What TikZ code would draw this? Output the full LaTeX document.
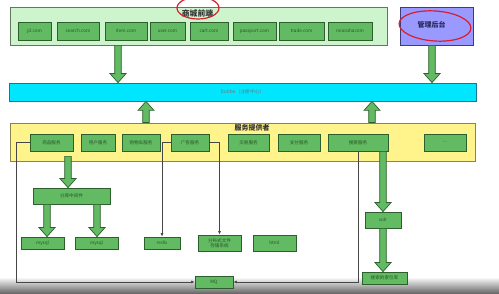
\documentclass[tikz,border=0pt]{standalone}
\usepackage{fontspec}
\setmainfont{Noto Sans CJK SC}
\usetikzlibrary{calc,arrows.meta}
\definecolor{boxfill}{RGB}{98,186,98}
\definecolor{boxline}{RGB}{45,95,45}
\definecolor{boxtext}{RGB}{40,85,40}
\definecolor{fefill}{RGB}{206,244,206}
\definecolor{feline}{RGB}{95,120,95}
\definecolor{yfill}{RGB}{255,243,140}
\definecolor{yline}{RGB}{140,130,80}
\definecolor{cyfill}{RGB}{0,230,255}
\definecolor{cyline}{RGB}{20,120,150}
\definecolor{adfill}{RGB}{153,153,255}
\definecolor{adline}{RGB}{60,60,120}
\definecolor{annot}{RGB}{215,30,45}
\definecolor{conn}{RGB}{70,70,70}
\tikzset{
  svbox/.style={draw=boxline, fill=boxfill, line width=0.8pt, inner sep=0pt,
    text=boxtext, font=\fontsize{4.6}{5.2}\selectfont, align=center},
  container/.style={line width=0.8pt, inner sep=0pt},
  titletext/.style={inner sep=0pt, text=black!80, font=\bfseries\fontsize{7}{8}\selectfont},
  fat/.style={draw=boxline, fill=boxfill, line width=0.7pt, line join=miter},
  thin/.style={draw=conn, line width=0.6pt, -{Latex[length=3.5pt,width=3pt]}},
  redmark/.style={draw=annot, line width=1.2pt},
}
\newcommand\fatdown[2]{\draw[fat] let \p1=(#1), \p2=(#2) in
  (\x1-3.3pt,\y1) -- (\x1-3.3pt,\y2+9pt) -- (\x1-8pt,\y2+9pt) -- (\x1,\y2)
  -- (\x1+8pt,\y2+9pt) -- (\x1+3.3pt,\y2+9pt) -- (\x1+3.3pt,\y1) -- cycle;}
\newcommand\fatup[2]{\draw[fat] let \p1=(#1), \p2=(#2) in
  (\x1-3.3pt,\y1) -- (\x1-3.3pt,\y2-9pt) -- (\x1-8pt,\y2-9pt) -- (\x1,\y2)
  -- (\x1+8pt,\y2-9pt) -- (\x1+3.3pt,\y2-9pt) -- (\x1+3.3pt,\y1) -- cycle;}
\begin{document}
\begin{tikzpicture}[x=1pt,y=-1pt]
\useasboundingbox (0,0) rectangle (499,294);
\fill[white] (0,0) rectangle (499,294);
% bottom screen shadow
\shade[top color=white, bottom color=black!62] (0,277) rectangle (499,294);

% front end
\node[container, draw=feline, fill=fefill, minimum width=377pt, minimum height=38pt] (fe) at (198.5,26) {};
\node[titletext, font=\bfseries\fontsize{7.8}{9}\selectfont] (fetitle) at (197.5,13.5) {商城前端};
\node[svbox, minimum width=33pt, minimum height=18pt] (jd) at (34.5,31) {jd.com};
\node[svbox, minimum width=42pt, minimum height=18pt] (searchcom) at (78,31) {search.com};
\node[svbox, minimum width=42pt, minimum height=18pt] (item) at (126,31) {item.com};
\node[svbox, minimum width=35pt, minimum height=18pt] (usercom) at (167.5,31) {user.com};
\node[svbox, minimum width=38pt, minimum height=18pt] (cartcom) at (209,31) {cart.com};
\node[svbox, minimum width=43pt, minimum height=18pt] (passport) at (254.5,31) {passport.com};
\node[svbox, minimum width=45pt, minimum height=18pt] (tradecom) at (301.5,31) {trade.com};
\node[svbox, minimum width=44pt, minimum height=18pt] (miaosha) at (350,31) {miaoshacom};

% admin
\node[container, draw=adline, fill=adfill, minimum width=73pt, minimum height=38pt] (admin) at (436.5,26) {};
\node[titletext, text={rgb,255:red,40;green,40;blue,90}] (admintxt) at (431.5,24.5) {管理后台};

% dubbo
\node[container, draw=cyline, fill=cyfill, minimum width=467pt, minimum height=18pt,
  font=\fontsize{4.8}{5.5}\selectfont, text=black!55] (dubbo) at (242.5,92) {Dubbo（注册中心）};

% provider
\node[container, draw=yline, fill=yfill, minimum width=465pt, minimum height=38pt] (prov) at (242.5,142) {};
\node[titletext] (provtitle) at (252,128) {服务提供者};
\node[svbox, minimum width=43pt, minimum height=17pt] (shop) at (51.5,142.5) {商品服务};
\node[svbox, minimum width=34pt, minimum height=17pt] (usersv) at (98,142.5) {用户服务};
\node[svbox, minimum width=38pt, minimum height=17pt] (cartsv) at (141,142.5) {购物车服务};
\node[svbox, minimum width=38pt, minimum height=17pt] (ad) at (190,142.5) {广告服务};
\node[svbox, minimum width=41pt, minimum height=17pt] (tradesv) at (248.5,142.5) {交易服务};
\node[svbox, minimum width=42pt, minimum height=17pt] (pay) at (299,142.5) {支付服务};
\node[svbox, minimum width=60pt, minimum height=17pt] (search) at (358,142.5) {搜索服务};
\node[svbox, minimum width=42pt, minimum height=17pt] (dots) at (445,142.5) {...};

% lower boxes
\node[svbox, minimum width=77pt, minimum height=16pt] (fk) at (71.5,196) {分库中间件};
\node[svbox, minimum width=43pt, minimum height=12pt] (mysql1) at (42.5,243) {mysql};
\node[svbox, minimum width=43pt, minimum height=12pt] (mysql2) at (96.5,243) {mysql};
\node[svbox, minimum width=36pt, minimum height=12pt] (redis) at (162,243) {redis};
\node[svbox, minimum width=43pt, minimum height=16pt] (dfs) at (219.5,243) {分布式文件\\存储系统};
\node[svbox, minimum width=43pt, minimum height=16pt] (html) at (274.5,243) {html};
\node[svbox, minimum width=38pt, minimum height=12pt] (mq) at (214,282) {MQ};
\node[svbox, minimum width=36pt, minimum height=16pt] (solr) at (383,220) {solr};
\node[svbox, minimum width=45pt, minimum height=12pt] (index) at (384.5,278) {搜索的索引库};

% fat arrows
\path (fe.south) ++(-80.5,0) coordinate (feA);
\fatdown{feA}{feA |- dubbo.north}
\path (admin.south) ++(-4.5,0) coordinate (adA);
\fatdown{adA}{adA |- dubbo.north}
\path (prov.north) ++(-96.5,0) coordinate (pA);
\fatup{pA}{pA |- dubbo.south}
\path (prov.north) ++(129.5,0) coordinate (pB);
\fatup{pB}{pB |- dubbo.south}
\path (shop.south) ++(16.5,5) coordinate (sA);
\fatdown{sA}{sA |- fk.north}
\path (fk.south -| mysql1.center) ++(4.5,0) coordinate (fA);
\fatdown{fA}{fA |- mysql1.north}
\path (fk.south -| mysql2.center) ++(0.5,0) coordinate (fB);
\fatdown{fB}{fB |- mysql2.north}
\path (search.south) ++(25,0) coordinate (qA);
\fatdown{qA}{qA |- solr.north}
\path (solr.south) ++(0,0) coordinate (qB);
\fatdown{qB}{qB |- index.north}

% thin connectors
\draw[thin] (shop.west) -- ++(-13,0) |- (mq.west);
\draw[thin] (ad.west) -| (redis.north);
\draw[thin] (ad.east) -| (dfs.north);
\draw[thin] (search.south) |- (mq.east);

% red annotations
\draw[redmark] (198,8) ellipse [x radius=21, y radius=11];
\draw[redmark, rotate around={-4:(435,26)}] (435,26) ellipse [x radius=36, y radius=15];
\end{tikzpicture}
\end{document}
